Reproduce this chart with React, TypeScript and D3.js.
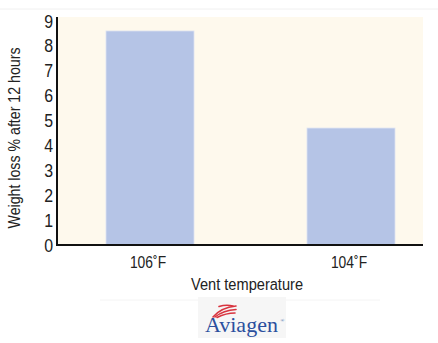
import * as d3 from "d3";

const categories = ["106˚F", "104˚F"];
const weightLoss = [8.6, 4.7];
const yTicks = [0, 1, 2, 3, 4, 5, 6, 7, 8, 9];

const W = 438;
const H = 343;
const PLOT = { left: 57, right: 423, top: 17, bottom: 245 };
const FONT = "'Liberation Sans', Arial, sans-serif";

// reference type is a condensed grotesque; squeeze a regular face horizontally
function Narrow({ x, y, anchor = "middle", size, sx = 0.84, rotate = 0, children }: any) {
  return (
    <g transform={`translate(${x},${y}) rotate(${rotate}) scale(${sx},1)`}>
      <text textAnchor={anchor} fontFamily={FONT} fontSize={size} fill="#222">
        {children}
      </text>
    </g>
  );
}

function BarChart() {
  const y = d3.scaleLinear().domain([0, 9]).range([PLOT.bottom, 21]);
  const x = d3
    .scaleBand<string>()
    .domain(categories)
    .range([49.5, 451.5])
    .paddingInner(0.562)
    .paddingOuter(0.281);

  return (
    <svg width={W} height={H} style={{ display: "block", background: "#fff" }}>
      <line x1={0} x2={W} y1={9} y2={9} stroke="#f0f0f0" strokeWidth={1} />
      <line x1={100} x2={380} y1={300} y2={300} stroke="#f4f4f4" strokeWidth={1} />

      <rect
        x={PLOT.left}
        y={PLOT.top}
        width={PLOT.right - PLOT.left}
        height={PLOT.bottom - PLOT.top}
        fill="#fef9ed"
      />

      {categories.map((c, i) => (
        <rect
          key={c}
          x={x(c)}
          y={y(weightLoss[i])}
          width={x.bandwidth()}
          height={y(0) - y(weightLoss[i])}
          fill="#b5c4e6"
          stroke="#dfe4f2"
          strokeWidth={0.8}
        />
      ))}

      <line x1={PLOT.left} x2={PLOT.left} y1={PLOT.top} y2={PLOT.bottom + 1} stroke="#111" strokeWidth={2} />
      <line x1={PLOT.left - 1} x2={PLOT.right} y1={PLOT.bottom} y2={PLOT.bottom} stroke="#111" strokeWidth={2} />

      {yTicks.map((t) => (
        <Narrow key={t} x={53} y={y(t) + 6.5} anchor="end" size={18.5} sx={0.86}>
          {t}
        </Narrow>
      ))}

      {categories.map((c) => (
        <Narrow key={c} x={(x(c) ?? 0) + x.bandwidth() / 2 - 2} y={268} size={16.5}>
          {c}
        </Narrow>
      ))}

      <Narrow x={247} y={290} size={17} sx={0.86}>
        Vent temperature
      </Narrow>

      <Narrow x={20} y={(PLOT.top + PLOT.bottom) / 2 + 7} rotate={-90} size={16.5} sx={0.86}>
        Weight loss % after 12 hours
      </Narrow>

      {/* logo */}
      <g>
        <rect x={198} y={297} width={88} height={41} fill="#f6f6f6" />
        <g fill="none" stroke="#d8343f" strokeWidth={1.6} strokeLinecap="round">
          <path d="M213,317 C218,311 226,307 236,306" />
          <path d="M215,317 C220,313 227,310 236,309.5" />
          <path d="M217,317.5 C222,315 228,313 235,313" />
          <path d="M219,306.5 C224,305 229,305 233,306" />
        </g>
        <text x={205} y={332} fontFamily="'Liberation Serif', 'Times New Roman', serif" fontSize={22} fill="#2b4f9e">
          Aviagen
        </text>
        <text x={280.5} y={322} fontFamily="'Liberation Serif', serif" fontSize={5} fill="#2b4f9e">
          ®
        </text>
      </g>
    </svg>
  );
}

export default function App() {
  return (
    <div style={{ position: "fixed", left: 0, top: 0 }}>
      <BarChart />
    </div>
  );
}
